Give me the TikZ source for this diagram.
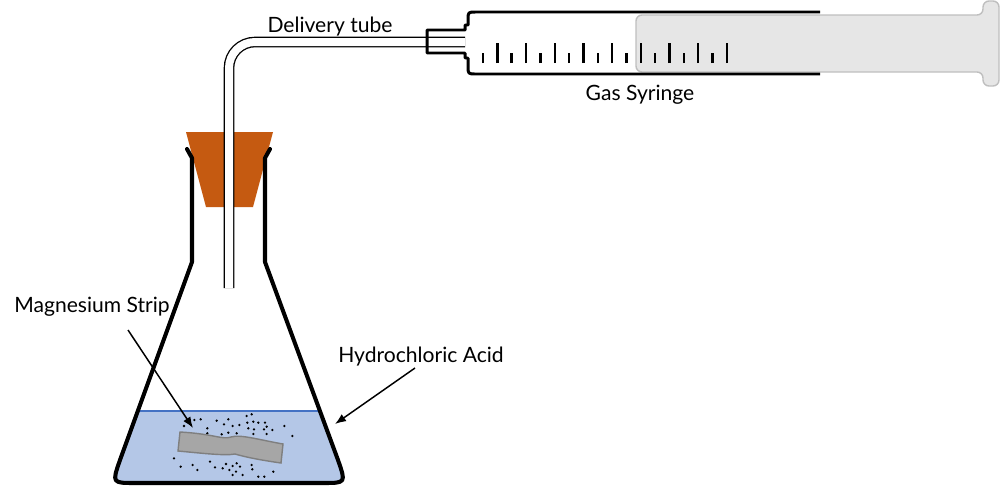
\documentclass[tikz,border=0pt]{standalone}
\usepackage{fontspec}
\setmainfont{Lato}
\usetikzlibrary{arrows.meta}

\definecolor{cork}{HTML}{C55A11}
\definecolor{acid}{HTML}{B4C7E7}
\definecolor{acidtop}{HTML}{4472C4}
\definecolor{plungerfill}{HTML}{E6E6E6}
\definecolor{plungerline}{HTML}{BFBFBF}
\definecolor{stripfill}{HTML}{A6A6A6}
\definecolor{stripline}{HTML}{7F7F7F}

\def\flaskbody{(192,262) -- (120,460) .. controls (112,483) .. (135,483) -- (323,483) .. controls (346,483) .. (338,460) -- (265,262)}
\def\stopper{(186,132) -- (273,132) -- (253,207) -- (206,207) -- cycle}

\tikzset{
  lbl/.style={font=\fontsize{12}{14}\selectfont, inner sep=0pt, anchor=base},
  glass/.style={line width=2.3pt, line cap=round, line join=round},
  barrel/.style={line width=1.7pt, line join=round},
  tick/.style={line width=1.4pt},
  pointer/.style={line width=0.85pt, -{Latex[length=2.2mm, width=1.7mm]}}
}

\begin{document}
\begin{tikzpicture}[x=0.02cm, y=-0.02cm]
  \useasboundingbox (0,0) rectangle (1000,487);

  % acid in the flask
  \begin{scope}
    \clip \flaskbody -- cycle;
    \fill[acid] (0,411) rectangle (500,490);
    \draw[acidtop, line width=1pt] (0,411) -- (500,411);
  \end{scope}

  % bubbles
  \foreach \a/\b in {252/138, 283/120, 302/118, 322/145, 322/160, 350/122, 372/133,
      385/118, 398/138, 410/160, 385/158, 365/163, 418/135, 440/108, 455/103,
      442/128, 460/125, 445/145, 462/148, 475/128, 495/128, 500/140, 492/148,
      517/150, 460/162, 500/162, 553/138, 577/168, 222/235, 242/260, 278/255,
      292/270, 330/245, 345/262, 368/265, 378/252, 388/270, 398/258, 410/250,
      420/260, 408/275, 398/285, 428/285, 455/255, 457/268, 475/290, 493/290, 520/275}
    \fill ({100+\a/3},{380+\b/3}) circle (1.3);

  % magnesium strip
  \draw[fill=stripfill, draw=stripline, line width=0.8pt]
    (180,432) .. controls (215,434) and (222,440) .. (231,437)
    .. controls (240,434) and (260,440) .. (283,444) -- (281,463)
    .. controls (260,460) and (245,457) .. (235,454)
    .. controls (225,456) and (200,453) .. (178,451) -- cycle;

  % bung and flask
  \fill[cork] \stopper;
  \draw[glass] (187,149) -- (192,158) -- \flaskbody -- (265,158) -- (270,149);

  % gas syringe
  \draw[fill=plungerfill, draw=plungerline, line width=0.8pt, rounded corners=0.12cm]
    (636,15) -- (983,15) -- (983,1) -- (999,1) -- (999,86) -- (983,86) -- (983,72)
    -- (636,72) -- cycle;
  \foreach \i in {0,...,17} {
    \pgfmathsetmacro\tx{483+14.35*\i}
    \ifodd\i
      \draw[tick] (\tx,63) -- (\tx,43);
    \else
      \draw[tick] (\tx,63) -- (\tx,53);
    \fi
  }
  \fill[white] (427,30) rectangle (468,53);

  % delivery tube
  \draw[line width=0.75pt, double=white, double distance=0.16cm, rounded corners=0.52cm]
    (229,288) -- (229,42) -- (465,42);

  \draw[barrel] (820,12) -- (476,12) .. controls (468,12) .. (468,20) -- (468,25)
    -- (465,25) -- (465,30) -- (427,30) -- (427,53) -- (465,53) -- (465,58)
    -- (468,58) -- (468,66) .. controls (468,74) .. (476,74) -- (820,74);

  % labels
  \node[lbl] (tubelabel) at (330,32) {Delivery tube};
  \node[lbl] (syringelabel) at (640,100) {Gas Syringe};
  \node[lbl] (striplabel) at (92,312) {Magnesium Strip};
  \node[lbl] (acidlabel) at (421,362) {Hydrochloric Acid};

  \coordinate (stripfrom) at (128,330);
  \coordinate (stripto) at (193,428);
  \coordinate (acidfrom) at (415,368);
  \coordinate (acidto) at (335,424);
  \draw[pointer] (stripfrom) -- (stripto);
  \draw[pointer] (acidfrom) -- (acidto);
\end{tikzpicture}
\end{document}
